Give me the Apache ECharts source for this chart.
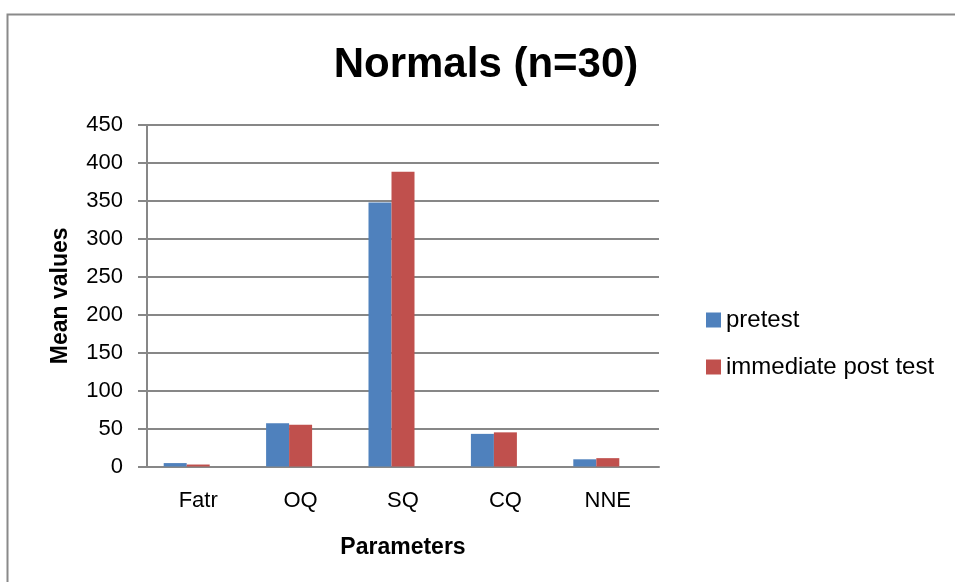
<!DOCTYPE html>
<html><head><meta charset="utf-8">
<script src="https://cdn.jsdelivr.net/npm/echarts@6/dist/echarts.min.js"></script>
<style>html,body{margin:0;padding:0;background:#fff}#c{width:955px;height:582px}</style>
</head><body><div id="c"></div>
<script>
const categories = ['Fatr', 'OQ', 'SQ', 'CQ', 'NNE'];
const pretest = [4.5, 57, 348, 43, 9.5];
const postTest = [2.6, 55, 388.5, 45, 11];
// empty third slot present in the original chart (reserves space, no bars drawn)
const emptySlot = [null, null, null, null, null];
const seriesNames = ['pretest', 'immediate post test'];
const yTicks = { min: 0, max: 450, interval: 50 };

const chart = echarts.init(document.getElementById('c'));
const font = 'Liberation Sans, Arial, sans-serif';
chart.setOption({
  backgroundColor: '#fff',
  animation: false,
  graphic: [{
    type: 'rect', left: 5, top: 12,
    shape: { width: 960, height: 600 },
    style: { fill: 'none', stroke: '#8a8a8a', lineWidth: 2 }
  }],
  title: {
    text: 'Normals (n=30)', left: 481, top: 39, textAlign: 'center',
    textStyle: { fontFamily: font, fontSize: 42, fontWeight: 'bold', color: '#000' }
  },
  legend: {
    orient: 'vertical', left: 701, top: 303, itemGap: 23,
    itemWidth: 15, itemHeight: 15, icon: 'rect',
    textStyle: { fontFamily: font, fontSize: 24, color: '#000' },
    data: seriesNames
  },
  grid: { left: 147, right: 296, top: 125, bottom: 115.5, containLabel: false },
  xAxis: {
    type: 'category', data: categories,
    name: 'Parameters', nameLocation: 'middle', nameGap: 70,
    nameTextStyle: { fontFamily: font, fontSize: 23, fontWeight: 'bold', color: '#000' },
    axisLine: { lineStyle: { color: '#878787', width: 2 } },
    axisTick: { show: false },
    axisLabel: { fontFamily: font, fontSize: 22, color: '#000', margin: 23 }
  },
  yAxis: {
    type: 'value', min: yTicks.min, max: yTicks.max, interval: yTicks.interval,
    name: 'Mean values', nameLocation: 'middle', nameGap: 75, nameRotate: 90,
    nameTextStyle: { fontFamily: font, fontSize: 23, fontWeight: 'bold', color: '#000' },
    axisLine: { show: true, lineStyle: { color: '#878787', width: 2 } },
    axisTick: { show: true, inside: false, length: 9, lineStyle: { color: '#878787', width: 2 } },
    axisLabel: { fontFamily: font, fontSize: 22, color: '#000', margin: 24 },
    splitLine: { lineStyle: { color: '#878787', width: 2 } }
  },
  series: [
    { name: seriesNames[0], type: 'bar', data: pretest, barWidth: 23, barGap: '0%',
      itemStyle: { color: '#4F81BD' } },
    { name: seriesNames[1], type: 'bar', data: postTest, barWidth: 23, barGap: '0%',
      itemStyle: { color: '#C0504D' } },
    { name: 'empty', type: 'bar', data: emptySlot, barWidth: 23, barGap: '0%',
      itemStyle: { color: 'transparent' } }
  ]
});
</script></body></html>
